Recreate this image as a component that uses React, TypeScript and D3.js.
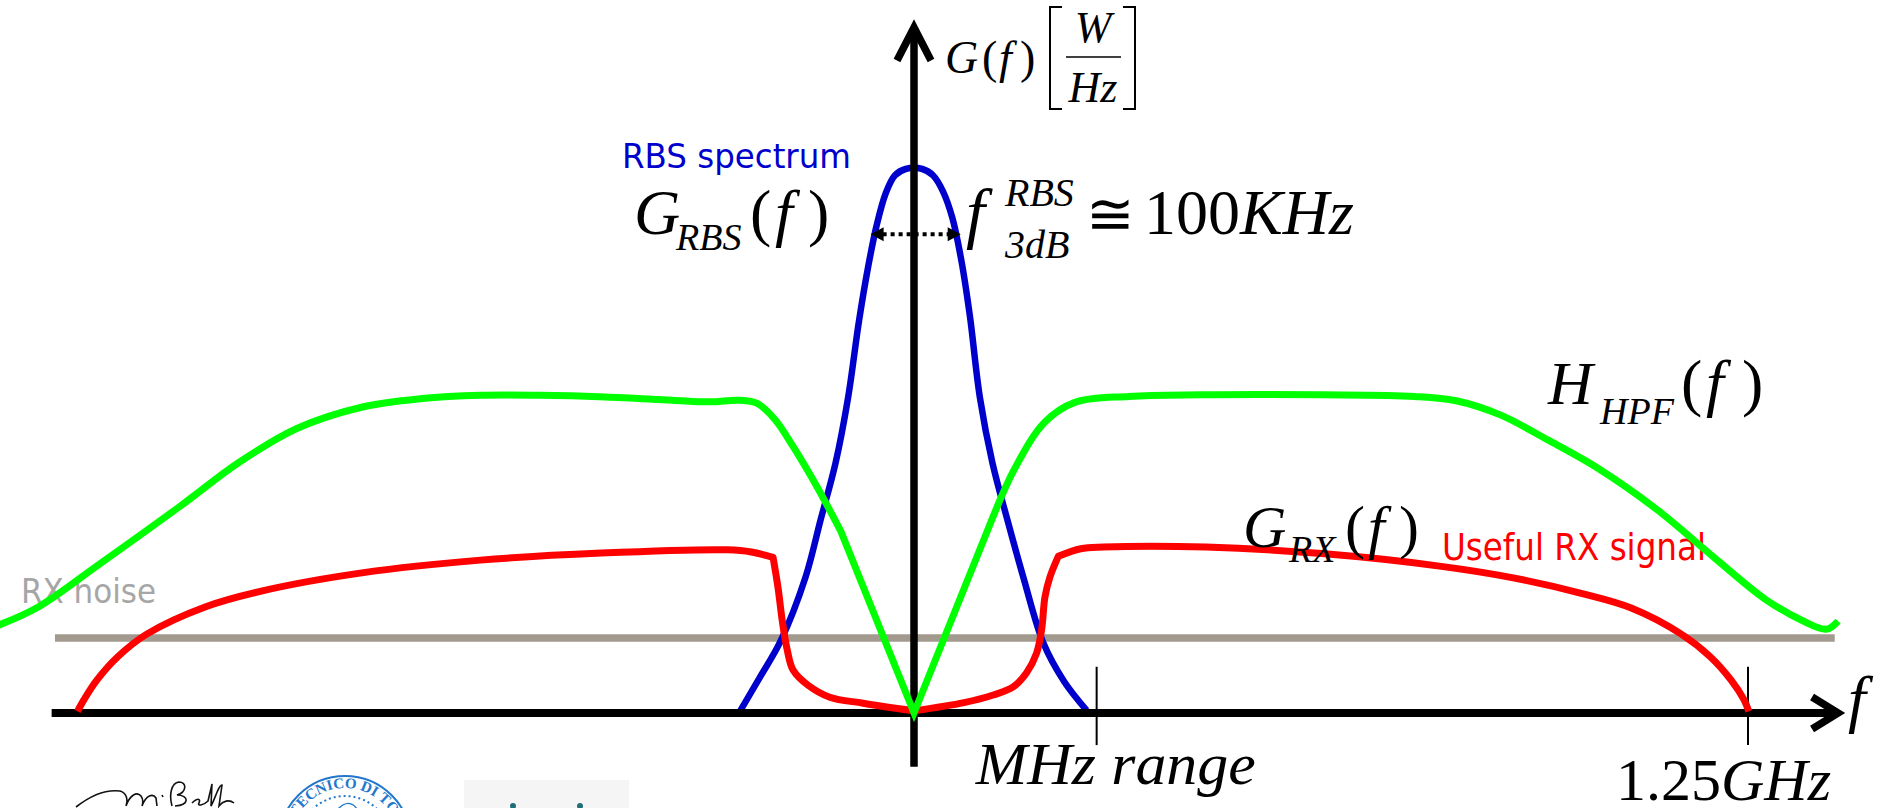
import React from 'react';
import * as d3 from 'd3';

const WIDTH = 1884;
const HEIGHT = 808;

// frequency in arbitrary units: 0 = carrier, +-100 = +-1.25 GHz
// level in arbitrary units: 100 = RBS peak
const rbsSpectrum: [number, number][] = [
  [-20.8, 0.5], [-18.5, 6.5], [-16, 13.2], [-13, 25], [-11.2, 35.5], [-9.4, 46], [-7.9, 58],
  [-6.6, 72], [-5.5, 82], [-4.5, 89.5], [-3.4, 95.5], [-2.3, 98.8], [-1, 100], [1, 100],
  [2.3, 98.8], [3.5, 95.8], [4.6, 91], [5.7, 83], [6.7, 73], [7.9, 58], [9.4, 46],
  [11.2, 35.5], [13.1, 25], [15.5, 12.9], [18, 5.8], [20.7, 0.5],
];

const hpfLeft: [number, number][] = [
  [-110, 16], [-105, 19.5], [-98, 27], [-88, 38], [-81, 46], [-74, 52.3], [-66, 56.3],
  [-59, 57.8], [-52, 58.4], [-45, 58.4], [-37, 58.1], [-29, 57.5], [-24.5, 57.2], [-21, 57.5],
  [-18.8, 56.9], [-16.7, 54], [-14.5, 49], [-11.6, 41.5], [-8.8, 33.5],
];
const hpfNotch: [number, number][] = [[-8.8, 33.5], [0, 0], [8.8, 33.5]];
const hpfRight: [number, number][] = [
  [8.8, 33.5], [12.1, 45], [15.7, 53.5], [19.3, 57.1], [25.8, 58.2], [34.4, 58.5],
  [48.9, 58.5], [60, 58.2], [65, 57.4], [70.3, 54.8], [76, 50.2], [82, 45], [89, 37.5],
  [96, 28.5], [102, 21], [106.5, 17], [109.4, 15.4], [110.8, 16.9],
];

const rxLeft: [number, number][] = [
  [-100.3, 0.3], [-99.5, 2.5], [-98, 6], [-95.5, 10.3], [-92, 14.5], [-85, 19.5], [-78, 22.5],
  [-66, 25.8], [-52, 28.1], [-37.5, 29.4], [-22.4, 30], [-19.5, 29.6], [-16.9, 28.6],
];
const rxLeftEdge: [number, number][] = [
  [-16.9, 28.6], [-16.3, 23], [-15.8, 17], [-15.2, 11.6], [-14.5, 7.9], [-12.7, 5.1],
  [-10.1, 2.9], [-6.1, 1.8], [0, 0.4],
];
const rxRightEdge: [number, number][] = [
  [0, 0.4], [6, 1.9], [9.5, 3.3], [11.9, 4.8], [13.5, 7.4], [14.7, 11], [15.3, 15.3],
  [15.7, 21.3], [16.3, 25], [17.3, 28.8],
];
const rxRight: [number, number][] = [
  [17.3, 28.8], [20, 30.2], [22.7, 30.5], [35, 30.5], [48.9, 29.3], [63, 27], [72, 24.8],
  [80, 22], [86, 19.3], [92, 14.5], [95.5, 10.3], [98, 6], [99.5, 2.5], [100.1, 0.3],
];

const noiseLevel = 13.8;
const noiseSpan = [-103, 110.4];
const fAxisSpan = [-103.4, 110.8];
const gAxisSpan = [-9.9, 126];
const tickFreqs = [21.9, 100];
const tickLabels = ['MHz range', '1.25GHz'];
const bandwidth3dB: [number, number] = [-5.2, 5.6];
const level3dB = 88;

const x = d3.scaleLinear().domain([-100, 100]).range([80, 1748]);
const y = d3.scaleLinear().domain([0, 100]).range([713, 169]);

const smooth = d3.line<[number, number]>()
  .x(d => x(d[0]))
  .y(d => y(d[1]))
  .curve(d3.curveCatmullRom.alpha(0.5));
const straight = d3.line<[number, number]>()
  .x(d => x(d[0]))
  .y(d => y(d[1]));

// glue pieces that share end points into one path (keeps the sharp corners)
const joinPaths = (...parts: string[]) =>
  parts.map((p, i) => (i === 0 ? p : p.replace(/^M[^A-Za-z]*/, ''))).join('');

const SERIF = '"Liberation Serif", "Times New Roman", serif';
const SANS = '"DejaVu Sans Condensed", "Open Sans", sans-serif';

const App = () => {
  const x0 = x(0);
  const yAxis = y(0);
  const xTip = x(fAxisSpan[1]);
  const yTop = y(gAxisSpan[1]);
  const arrowY = y(level3dB);
  const aL = x(bandwidth3dB[0]);
  const aR = x(bandwidth3dB[1]);

  const hpfPath = joinPaths(smooth(hpfLeft)!, straight(hpfNotch)!, smooth(hpfRight)!);
  const rxPath = joinPaths(smooth(rxLeft)!, smooth(rxLeftEdge)!, smooth(rxRightEdge)!, smooth(rxRight)!);

  const logoR = 66;
  const logoCx = 345;
  const logoCy = 842;

  return (
    <svg width={WIDTH} height={HEIGHT} style={{ position: 'absolute', left: 0, top: 0, display: 'block' }}>
      <rect width={WIDTH} height={HEIGHT} fill="#fff" />

      {/* labels under the curves */}
      <text x={21} y={603} fontFamily={SANS} fontSize={33} fill="#a6a6a6" textLength={135} lengthAdjust="spacingAndGlyphs">RX noise</text>
      <text x={622} y={168} fontFamily={SANS} fontSize={34} fill="#0000cc" textLength={229} lengthAdjust="spacingAndGlyphs">RBS spectrum</text>
      <text x={1442} y={560} fontFamily={SANS} fontSize={38} fill="#ff0000" textLength={264} lengthAdjust="spacingAndGlyphs">Useful RX signal</text>

      {/* noise floor */}
      <line x1={x(noiseSpan[0])} x2={x(noiseSpan[1])} y1={y(noiseLevel)} y2={y(noiseLevel)} stroke="#a39a8f" strokeWidth={7.5} />

      {/* RBS spectrum */}
      <path d={smooth(rbsSpectrum)!} fill="none" stroke="#0000cc" strokeWidth={6.5} />

      {/* axes */}
      <line x1={x(fAxisSpan[0])} x2={xTip - 4} y1={yAxis} y2={yAxis} stroke="#000" strokeWidth={8} />
      <path d={`M${xTip - 26},${yAxis - 16}L${xTip},${yAxis}L${xTip - 26},${yAxis + 16}`} fill="none" stroke="#000" strokeWidth={7.5} />
      <line x1={x0} x2={x0} y1={y(gAxisSpan[0])} y2={yTop + 4} stroke="#000" strokeWidth={7.5} />
      <path d={`M${x0 - 17},${yTop + 33}L${x0},${yTop}L${x0 + 17},${yTop + 33}`} fill="none" stroke="#000" strokeWidth={7.5} />

      {/* ticks */}
      {tickFreqs.map(f => (
        <line key={f} x1={x(f)} x2={x(f)} y1={y(8.5)} y2={y(-5.9)} stroke="#000" strokeWidth={2} />
      ))}
      <text x={x(tickFreqs[0]) - 121} y={784} fontFamily={SERIF} fontSize={60} fontStyle="italic" textLength={280} lengthAdjust="spacingAndGlyphs">{tickLabels[0]}</text>
      <text x={x(tickFreqs[1]) - 132} y={800} fontFamily={SERIF} fontSize={60}>
        1.25<tspan fontStyle="italic">GHz</tspan>
      </text>
      <text x={xTip + 10} y={720} fontFamily={SERIF} fontSize={64} fontStyle="italic">f</text>

      {/* 3 dB bandwidth arrow */}
      <line x1={aL + 12} x2={aR - 12} y1={arrowY} y2={arrowY} stroke="#000" strokeWidth={4} strokeDasharray="4 4" />
      <path d={`M${aL},${arrowY}L${aL + 13},${arrowY - 7}L${aL + 13},${arrowY + 7}Z`} fill="#000" />
      <path d={`M${aR},${arrowY}L${aR - 13},${arrowY - 7}L${aR - 13},${arrowY + 7}Z`} fill="#000" />

      {/* received signal and filter */}
      <path d={rxPath} fill="none" stroke="#ff0000" strokeWidth={7} strokeLinejoin="round" />
      <path d={hpfPath} fill="none" stroke="#00ff00" strokeWidth={7} strokeLinejoin="miter" />

      {/* y axis title G(f) [W/Hz] */}
      <g fontFamily={SERIF} fill="#000">
        <text x={945} y={73} fontSize={46} fontStyle="italic">G</text>
        <text x={982} y={73} fontSize={46}>(</text>
        <text x={999} y={73} fontSize={46} fontStyle="italic">f</text>
        <text x={1020} y={73} fontSize={46}>)</text>
        <path d="M1062,7H1050V109H1062" fill="none" stroke="#000" strokeWidth={2} />
        <path d="M1123,7H1135V109H1123" fill="none" stroke="#000" strokeWidth={2} />
        <line x1={1066} x2={1121} y1={57} y2={57} stroke="#000" strokeWidth={1.6} />
        <text x={1093} y={42} fontSize={44} fontStyle="italic" textAnchor="middle">W</text>
        <text x={1093} y={102} fontSize={44} fontStyle="italic" textAnchor="middle">Hz</text>
      </g>

      {/* G_RBS(f) */}
      <g fontFamily={SERIF} fill="#000">
        <text x={634} y={234} fontSize={64} fontStyle="italic">G</text>
        <text x={676} y={250} fontSize={38} fontStyle="italic">RBS</text>
        <text x={750} y={234} fontSize={64}>(</text>
        <text x={775} y={234} fontSize={64} fontStyle="italic">f</text>
        <text x={808} y={234} fontSize={64}>)</text>
      </g>

      {/* f_3dB^RBS ~= 100 KHz */}
      <g fontFamily={SERIF} fill="#000">
        <text x={966} y={236} fontSize={68} fontStyle="italic">f</text>
        <text x={1005} y={206} fontSize={40} fontStyle="italic">RBS</text>
        <text x={1005} y={258} fontSize={40} fontStyle="italic">3dB</text>
        <text x={1086} y={234} fontSize={58}>≅</text>
        <text x={1144} y={234} fontSize={64}>100</text>
        <text x={1240} y={234} fontSize={64} fontStyle="italic">KHz</text>
      </g>

      {/* H_HPF(f) */}
      <g fontFamily={SERIF} fill="#000">
        <text x={1548} y={404} fontSize={62} fontStyle="italic">H</text>
        <text x={1600} y={424} fontSize={38} fontStyle="italic">HPF</text>
        <text x={1681} y={404} fontSize={64}>(</text>
        <text x={1706} y={404} fontSize={64} fontStyle="italic">f</text>
        <text x={1742} y={404} fontSize={64}>)</text>
      </g>

      {/* G_RX(f) */}
      <g fontFamily={SERIF} fill="#000">
        <text x={1243} y={547} fontSize={60} fontStyle="italic">G</text>
        <text x={1289} y={562} fontSize={38} fontStyle="italic">RX</text>
        <text x={1345} y={547} fontSize={60}>(</text>
        <text x={1368} y={547} fontSize={60} fontStyle="italic">f</text>
        <text x={1399} y={547} fontSize={60}>)</text>
      </g>

      {/* footer logos, cut by the bottom edge */}
      <path
        d="M76,807 C90,796 104,789 120,791 C127,793 128,800 126,806 C130,795 137,791 141,796 C144,800 142,806 142,806 C146,795 153,793 156,798 L157,806 M162,795 L163,797 M172,806 C169,795 171,783 179,782 C187,782 187,792 177,795 C189,795 190,805 175,806 M192,803 C197,798 201,798 199,803 C197,806 203,806 208,801 L212,784 L211,806 C215,799 219,784 222,785 L219,806 C223,801 229,799 234,803"
        fill="none"
        stroke="#111"
        strokeWidth={1.6}
      />
      <g>
        <defs>
          <path id="logoArc" d={`M${logoCx - logoR + 12},${logoCy} A${logoR - 12},${logoR - 12} 0 0 1 ${logoCx + logoR - 12},${logoCy}`} />
        </defs>
        <circle cx={logoCx} cy={logoCy} r={logoR} fill="none" stroke="#2277cc" strokeWidth={2} />
        <circle cx={logoCx} cy={logoCy} r={logoR - 20} fill="none" stroke="#2277cc" strokeWidth={2} strokeDasharray="2 3" />
        <text fontFamily={SERIF} fontSize={15} fontWeight="bold" fill="#2277cc">
          <textPath href="#logoArc" startOffset="50%" textAnchor="middle">POLITECNICO DI TORINO</textPath>
        </text>
        <path
          d={`M${logoCx - 6},${logoCy - 34} C${logoCx + 4},${logoCy - 44} ${logoCx + 16},${logoCy - 36} ${logoCx + 12},${logoCy - 22} L${logoCx + 14},${logoCy - 14} L${logoCx + 6},${logoCy - 10} M${logoCx - 6},${logoCy - 34} C${logoCx - 12},${logoCy - 24} ${logoCx - 8},${logoCy - 14} ${logoCx - 2},${logoCy - 8}`}
          fill="none"
          stroke="#2277cc"
          strokeWidth={1.5}
        />
      </g>
      <rect x={464} y={780} width={165} height={28} fill="#f5f5f5" />
      <circle cx={513} cy={806} r={3} fill="#1f6f7a" />
      <circle cx={580} cy={806} r={3} fill="#1f6f7a" />
    </svg>
  );
};

export default App;
